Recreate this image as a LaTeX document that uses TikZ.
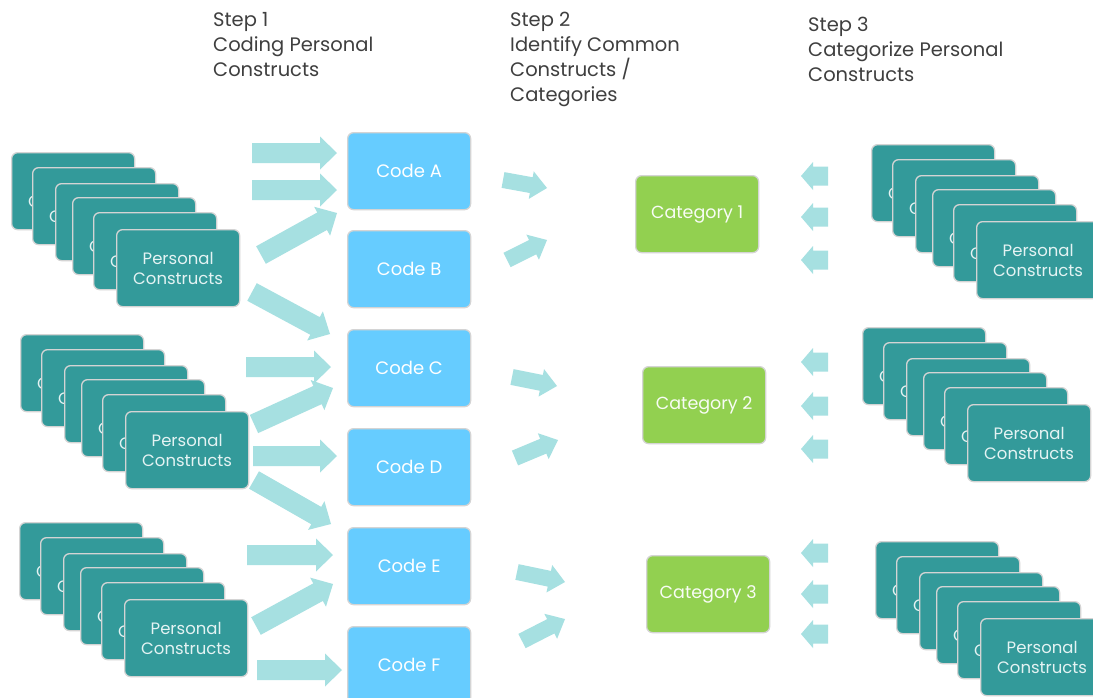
\documentclass[tikz,border=0pt]{standalone}
\usepackage{fontspec}
\setmainfont{Poppins}
\usetikzlibrary{calc}

\definecolor{cardteal}{HTML}{339A9A}
\definecolor{cardtext}{HTML}{E4F3F3}
\definecolor{codeblue}{HTML}{66CCFF}
\definecolor{catgreen}{HTML}{92D050}
\definecolor{arrowcyan}{HTML}{A6E0E1}
\definecolor{headgray}{HTML}{3F3F3F}
\definecolor{edgegray}{HTML}{D4D4D4}

% block arrow: tail, tip, half shaft width, half head width, head length
\newcommand\blockarrow[5]{%
  \coordinate (hb) at ($#2!#5!#1$);
  \fill[arrowcyan]
    ($#1!#3!90:#2$) -- ($(hb)!#3!90:#2$) -- ($(hb)!#4!90:#2$) -- #2
    -- ($(hb)!#4!-90:#2$) -- ($(hb)!#3!-90:#2$) -- ($#1!#3!-90:#2$) -- cycle;
}

% a fanned stack of six cards
\newcommand\pcstack[3]{%
  \foreach \dx/\dy [count=\i] in {0/0,21/15,44/31,61/45,82/60,105/77}
    \node[pcard] (#1-\i) at (#2+\dx,#3+\dy) {Personal\\Constructs};
}

\begin{document}
\begin{tikzpicture}[x=1pt,y=-1pt,
  box/.style={draw=edgegray, line width=1.3pt, rounded corners=6pt,
    minimum width=123pt, minimum height=77pt, anchor=north west,
    inner sep=0pt, align=center},
  pcard/.style={box, fill=cardteal, text=cardtext,
    font=\fontsize{16.5}{20}\selectfont},
  codebox/.style={box, fill=codeblue, text=white,
    font=\fontsize{18}{20}\selectfont},
  catbox/.style={box, fill=catgreen, text=white!94!catgreen,
    font=\fontsize{17.5}{20}\selectfont},
  heading/.style={anchor=north west, inner sep=0pt, align=left,
    text=headgray, font=\fontsize{19.5}{25}\selectfont},
]
\useasboundingbox[fill=white] (0,0) rectangle (1093,697);

% headings
\node[heading] (s1) at (213,12) {Step 1\\Coding Personal\\Constructs};
\node[heading] (s2) at (510,12) {Step 2\\Identify Common\\Constructs /\\Categories};
\node[heading] (s3) at (808,17) {Step 3\\Categorize Personal\\Constructs};

% step 1 arrows
\foreach \ax/\ay/\bx/\by in {
    252/153/337/153, 252/190/337/190, 261/255/337/213, 252/292/330/334,
    246/367/331/367, 254/424/333/388, 253/456/337/456, 254/480/331/524,
    247/555/333/555, 256/626/333/584, 257/670/342/670}
  \blockarrow{(\ax,\ay)}{(\bx,\by)}{10pt}{16.5pt}{17pt};

% step 2 arrows
\foreach \ax/\ay/\bx/\by in {
    503/180/547/188, 507/260/547/240,
    512/377/557/386, 515/458/558/440,
    517/572/565/582, 522/641/565/619}
  \blockarrow{(\ax,\ay)}{(\bx,\by)}{8pt}{14pt}{16pt};

% step 3 arrows
\foreach \ay in {176,217,260,362,406,449,553,594,634}
  \blockarrow{(828,\ay)}{(801,\ay)}{9.5pt}{14pt}{12pt};

% card stacks
\pcstack{pl1}{11}{152}
\pcstack{pl2}{20}{334}
\pcstack{pl3}{19}{522}
\pcstack{pr1}{871}{144}
\pcstack{pr2}{862}{327}
\pcstack{pr3}{875}{541}

% codes
\node[codebox] (codeA) at (347,132) {Code A};
\node[codebox] (codeB) at (347,230) {Code B};
\node[codebox] (codeC) at (347,329) {Code C};
\node[codebox] (codeD) at (347,428) {Code D};
\node[codebox] (codeE) at (347,527) {Code E};
\node[codebox] (codeF) at (347,626) {Code F};

% categories
\node[catbox] (cat1) at (635,175) {Category 1};
\node[catbox] (cat2) at (642,366) {Category 2};
\node[catbox] (cat3) at (646,555) {Category 3};
\end{tikzpicture}
\end{document}
